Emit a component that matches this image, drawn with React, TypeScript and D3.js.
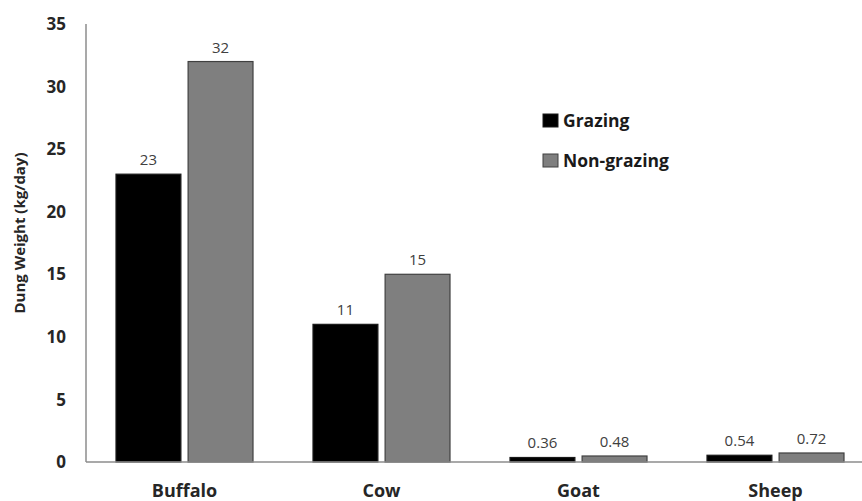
import React from "react";
import * as d3 from "d3";

const categories = ["Buffalo", "Cow", "Goat", "Sheep"];
const grazing = [23, 11, 0.36, 0.54];
const nonGrazing = [32, 15, 0.48, 0.72];
const seriesNames = ["Grazing", "Non-grazing"];
const yTicks = [0, 5, 10, 15, 20, 25, 30, 35];

const W = 862;
const H = 501;
const left = 86;
const top = 24;
const bottom = 462;

export default function App() {
  const x = d3.scaleBand<string>().domain(categories).range([left, left + 4 * 197]).paddingInner(0).paddingOuter(0);
  const inner = d3.scaleBand<string>().domain(seriesNames).range([30, 197 - 30]).paddingInner(0.1);
  const y = d3.scaleLinear().domain([0, 35]).range([bottom, top]);
  const series = [grazing, nonGrazing];
  const fills = ["#000000", "#7f7f7f"];
  const strokes = ["#1a1a1a", "#404040"];
  const font = "'Open Sans', 'Noto Sans', sans-serif";
  return (
    <svg width={W} height={H} style={{ position: "absolute", left: 0, top: 0, background: "#fff" }}>
      {yTicks.map((t) => (
        <text key={t} x={66} y={y(t)} dy="0.36em" textAnchor="end" fontFamily={font} fontWeight="bold" fontSize={17} fill="#262626">
          {t}
        </text>
      ))}
      <text transform={`translate(20,${233}) rotate(-90)`} textAnchor="middle" dy="0.35em" fontFamily={font} fontWeight="bold" fontSize={15} fill="#262626">
        Dung Weight (kg/day)
      </text>
      {categories.map((c, i) =>
        series.map((s, j) => {
          const bx = (x(c) as number) + (inner(seriesNames[j]) as number);
          const bw = inner.bandwidth();
          const by = y(s[i]);
          return (
            <g key={c + j}>
              <rect x={bx} y={by} width={bw} height={Math.max(bottom - by, 0)} fill={fills[j]} stroke={strokes[j]} strokeWidth={1.2} />
              <text x={bx + bw / 2} y={by - 9} textAnchor="middle" fontFamily={font} fontSize={15} fill="#404040">
                {s[i]}
              </text>
            </g>
          );
        })
      )}
      <line x1={left} x2={left} y1={top} y2={bottom} stroke="#8c8c8c" strokeWidth={1.5} />
      <line x1={left} x2={W} y1={bottom} y2={bottom} stroke="#8c8c8c" strokeWidth={1.5} />
      {categories.map((c) => (
        <text key={c} x={(x(c) as number) + x.bandwidth() / 2} y={497} textAnchor="middle" fontFamily={font} fontWeight="bold" fontSize={18} fill="#262626">
          {c}
        </text>
      ))}
      {seriesNames.map((n, j) => (
        <g key={n} transform={`translate(543,${114 + j * 40})`}>
          <rect x={0} y={0} width={15} height={13} fill={fills[j]} stroke={strokes[j]} strokeWidth={1} />
          <text x={20} y={12.5} fontFamily={font} fontWeight="bold" fontSize={17.5} fill="#1a1a1a">
            {n}
          </text>
        </g>
      ))}
    </svg>
  );
}
